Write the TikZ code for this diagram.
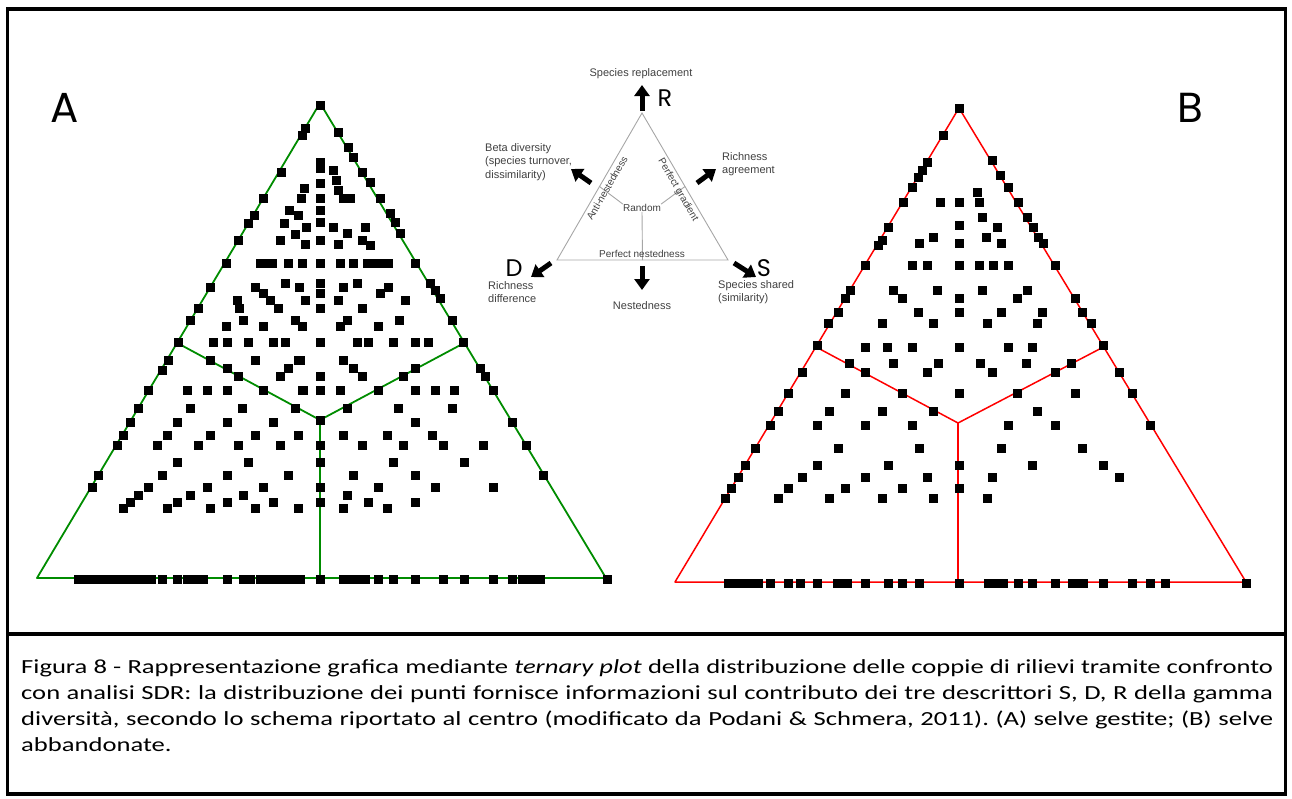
\documentclass[tikz,border=0pt]{standalone}
\usepackage{fontspec}
\setmainfont{Carlito}
\newfontfamily\capfont[FakeStretch=1.33]{Carlito}
\newfontfamily\labelfont{Liberation Sans}
\newfontfamily\letterfont{Poppins}
\usetikzlibrary{arrows.meta,calc}

\newcommand{\sqpts}[1]{\foreach \px/\py in {#1} {\fill (\px-4.5,\py-4.5) rectangle ++(9,9);}}
\newcommand{\sqrow}[2]{\foreach \px in {#2} {\fill (\px-4.5,#1-4.5) rectangle ++(9,9);}}

\begin{document}
\frenchspacing
\begin{tikzpicture}[x=1pt,y=-1pt,
      every node/.style={inner sep=0pt},
      tern A/.style={draw=green!55!black,line width=1.8pt,line join=round},
      tern B/.style={draw=red,line width=1.5pt,line join=round},
      schema/.style={draw=gray!70,line width=0.9pt},
      small lbl/.style={font=\labelfont\fontsize{11}{13.5}\selectfont,text=black!75,align=left},
      side lbl/.style={font=\labelfont\fontsize{10}{12}\selectfont,text=black!75},
      corner lbl/.style={font=\letterfont\fontsize{24}{24}\selectfont},
      panel lbl/.style={font=\letterfont\fontsize{42}{42}\selectfont},
      big arrow/.style={line width=5pt,-{Triangle[length=11pt,width=15pt]}}]
  \useasboundingbox (0,0) rectangle (1292,798);
  \draw[line width=3.3pt] (7.5,9) rectangle (1285.5,794);
  \draw[line width=3.3pt] (7.5,634) -- (1285.5,634);

  % panel A
  \coordinate (A top) at (320,103);
  \coordinate (A left) at (37,578);
  \coordinate (A right) at (606,578);
  \coordinate (A mid) at (320,420);
  \draw[tern A] (A top) -- (A left) -- (A right) -- cycle;
  \draw[tern A] ($(A top)!0.505!(A left)$) -- (A mid) -- ($(A top)!0.505!(A right)$);
  \draw[tern A] (A mid) -- (320,578);
  \sqpts{320/105,
    305/128,302/135,281/172,263/198,254/215,248/223,238/240,226/263,210/287,198/308,190/320,178/342,
    168/360,162/370,148/390,138/408,130/422,123/435,117/445,98/475,92/487,
    338/132,348/147,353/157,362/172,370/182,380/198,390/213,395/222,400/233,415/263,430/283,435/290,
    440/298,452/320,463/342,480/368,485/376,493/390,512/422,526/445,543/475,
    320/162,320/168,320/183,320/198,320/210,320/222,320/240,320/263,320/283,320/293,320/308,320/342,
    320/376,320/390,320/420,320/445,320/462,320/487,320/502,
    304/188,301/198,289/210,298/215,284/223,306/227,295/234,280/240,305/244,260/263,266/263,272/263,
    288/263,302/263,285/283,299/287,255/287,263/293,270/300,278/308,305/300,237/300,239/308,243/320,
    226/326,263/326,295/320,302/326,213/342,227/342,248/342,273/342,285/342,
    333/170,336/180,338/190,343/198,350/198,333/227,347/233,365/227,362/240,370/245,338/244,340/263,
    353/263,367/263,374/263,381/263,388/263,343/287,357/283,380/293,388/287,405/300,338/300,362/308,
    347/320,340/326,378/326,399/320,357/342,368/342,393/342,415/342,428/342,
    255/360,298/360,288/368,280/376,302/390,210/360,227/368,238/376,263/390,295/408,
    187/390,207/390,227/390,190/408,242/408,177/422,227/422,273/422,167/435,157/445,210/435,198/445,
    238/445,255/435,280/445,298/435,177/462,248/462,162/475,227/475,288/475,148/487,138/495,130/502,
    123/508,207/487,190/495,177/502,167/508,227/502,210/508,243/495,263/487,255/508,273/502,298/508,
    300/360,343/360,353/368,362/376,303/390,340/390,347/408,378/390,403/376,415/368,
    415/390,435/390,454/390,398/408,452/408,415/422,343/435,362/445,387/435,403/445,432/435,443/445,
    483/445,393/462,464/462,353/475,415/475,378/487,435/487,493/487,347/495,368/502,343/508,387/508,
    415/502}
  \sqrow{579}{78,84,90,96,102,108,114,120,127,133,139,145,151,162,177,187,193,199,203,227,243,250,
    260,266,272,278,284,290,296,300,320,343,349,355,361,365,378,393,415,443,464,493,512,522,528,534,540,607}
  \node[panel lbl] (A name) at (65,108) {A};

  % panel B
  \coordinate (B top) at (959,108);
  \coordinate (B left) at (675,582);
  \coordinate (B right) at (1246,582);
  \coordinate (B mid) at (958,423);
  \draw[tern B] (B top) -- (B left) -- (B right) -- cycle;
  \draw[tern B] ($(B top)!0.504!(B left)$) -- (B mid) -- ($(B top)!0.504!(B right)$);
  \draw[tern B] (B mid) -- (958,582);
  \sqpts{959/108,
    943/135,927/162,922/170,918/177,912/187,903/202,888/227,882/240,878/245,865/265,850/290,845/298,
    838/312,828/323,817/345,802/372,788/393,778/411,770/425,755/448,745/465,738/477,731/488,725/498,
    992/160,1000/175,1008/187,1018/202,1027/217,1033/227,1038/237,1043/243,1055/265,1075/298,1082/312,
    1091/323,1103/345,1119/372,1132/393,1150/425,
    940/202,959/202,977/192,979/202,959/225,959/243,933/237,919/243,912/265,927/265,959/265,979/265,
    993/265,1008/265,893/290,902/298,937/290,959/298,959/312,982/290,1027/290,1017/298,918/312,
    1001/312,1042/312,882/323,933/323,987/323,1037/323,865/347,887/347,912/347,959/347,1008/347,
    1032/347,982/217,997/227,986/237,1001/243,
    849/363,865/372,902/393,933/411,893/363,938/363,927/372,959/393,980/363,992/372,1026/363,
    1017/393,1055/372,1071/363,
    845/393,829/411,882/411,817/425,865/425,912/425,838/448,919/448,817/465,888/465,959/465,802/477,
    865/477,927/477,959/488,788/488,778/498,845/488,829/498,902/488,882/498,933/498,1075/393,1037/411,
    1008/425,1055/425,1001/448,1082/448,1032/465,1103/465,992/477,1119/477,987/498}
  \sqrow{583}{728,734,740,746,752,758,770,788,800,817,837,843,847,865,888,902,919,959,988,994,1000,
    1003,1018,1032,1055,1072,1078,1083,1103,1132,1150,1165,1246}
  \node[panel lbl] (B name) at (1190,108) {B};

  % schema
  \coordinate (R) at (642,113);
  \coordinate (D) at (557,260);
  \coordinate (S) at (728,260);
  \draw[schema] (R) -- (D) -- (S) -- cycle;
  \node[side lbl] (rnd) at (642,208) {Random};
  \draw[schema] ($(R)!0.5!(D)$) -- (rnd.north west);
  \draw[schema] ($(R)!0.5!(S)$) -- (rnd.north east);
  \draw[schema] (rnd.south) -- ($(D)!0.5!(S)$);
  \node[side lbl,rotate=60] (anti) at (607,188) {Anti-nestedness};
  \node[side lbl,rotate=-60] (grad) at (678,190) {Perfect gradient};
  \node[side lbl,anchor=south] (pnest) at (642,258) {Perfect nestedness};

  \node[small lbl] (repl) at (641,74) {Species replacement};
  \node[corner lbl] (R name) at (665,98) {R};
  \coordinate (R a) at (642,111);
  \coordinate (R b) at (642,85);
  \draw[big arrow] (R a) -- (R b);

  \node[small lbl,anchor=west] (beta) at (485,162) {Beta diversity\\(species turnover,\\dissimilarity)};
  \coordinate (beta a) at (591,183);
  \coordinate (beta b) at (571,169);
  \draw[big arrow] (beta a) -- (beta b);

  \node[small lbl,anchor=west] (agree) at (722,164) {Richness\\agreement};
  \coordinate (agree a) at (697,183);
  \coordinate (agree b) at (716,169);
  \draw[big arrow] (agree a) -- (agree b);

  \node[corner lbl] (D name) at (514,268) {D};
  \node[small lbl,anchor=west] (diff) at (488,292) {Richness\\difference};
  \coordinate (D a) at (551,263);
  \coordinate (D b) at (531,277);
  \draw[big arrow] (D a) -- (D b);

  \node[small lbl] (nest) at (642,306) {Nestedness};
  \coordinate (N a) at (642,266);
  \coordinate (N b) at (642,290);
  \draw[big arrow] (N a) -- (N b);

  \node[corner lbl] (S name) at (764,268) {S};
  \node[small lbl,anchor=west] (shared) at (718,292) {Species shared\\(similarity)};
  \coordinate (S a) at (734,263);
  \coordinate (S b) at (756,277);
  \draw[big arrow] (S a) -- (S b);

  % caption
  \node[anchor=north west,text width=1252pt,align=justify,
        font=\capfont\fontsize{20}{26}\selectfont] (caption) at (21,659)
    {Figura 8 - Rappresentazione grafica mediante \textit{ternary plot} della distribuzione delle coppie di rilievi tramite confronto\linebreak
     con analisi SDR: la distribuzione dei punti fornisce informazioni sul contributo dei tre descrittori S, D, R della gamma\linebreak
     diversità, secondo lo schema riportato al centro (modificato da Podani \& Schmera, 2011). (A) selve gestite; (B) selve\linebreak
     abbandonate.};
\end{tikzpicture}
\end{document}
